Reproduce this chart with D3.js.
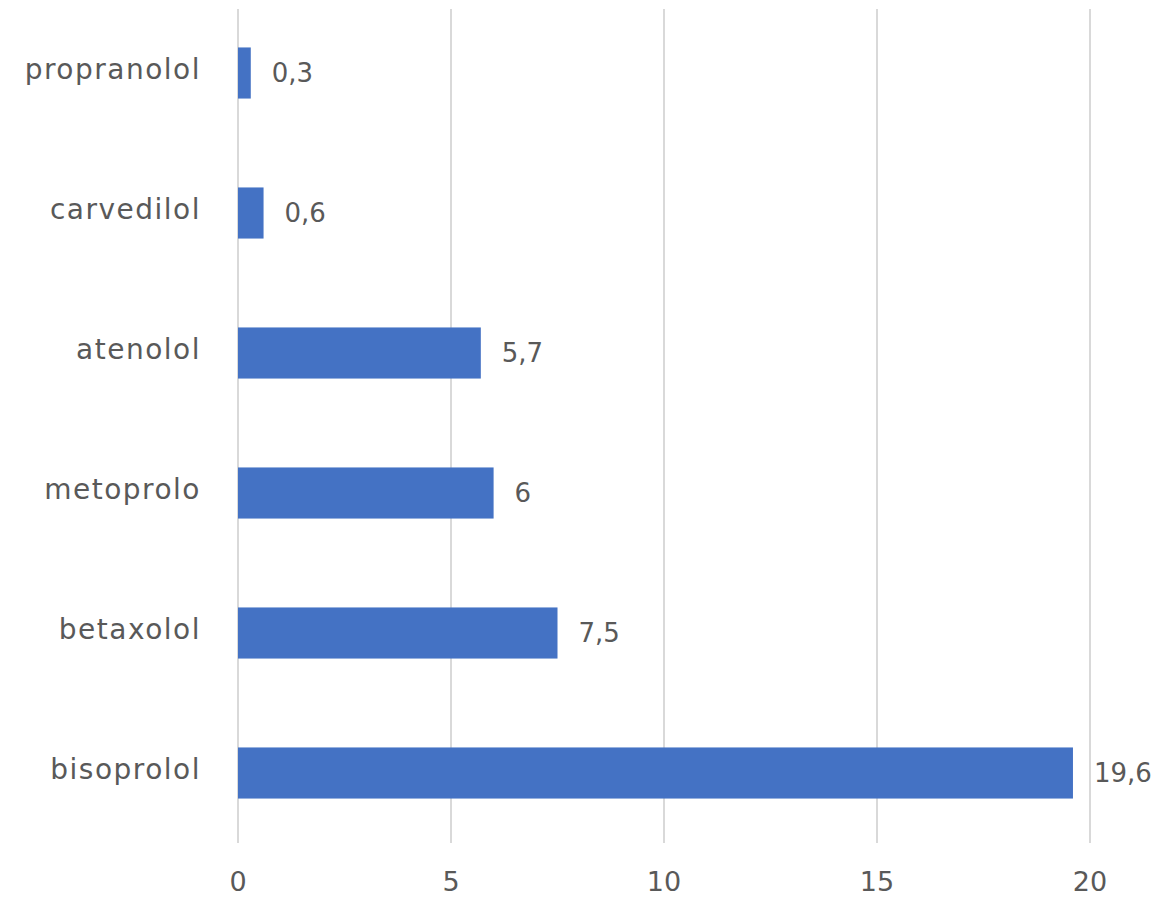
<!DOCTYPE html>
<html>
<head>
<meta charset="utf-8">
<script src="https://cdn.jsdelivr.net/npm/d3@7"></script>
<style>
  html, body { margin: 0; padding: 0; background: #fff; }
  svg text { font-family: "DejaVu Sans", sans-serif; fill: #595959; }
</style>
</head>
<body>
<svg id="chart" width="1166" height="897"></svg>
<script>
const categories = ["propranolol", "carvedilol", "atenolol", "metoprolo", "betaxolol", "bisoprolol"];
const values = [0.3, 0.6, 5.7, 6, 7.5, 19.6];
const valueLabels = ["0,3", "0,6", "5,7", "6", "7,5", "19,6"];
const tickValues = [0, 5, 10, 15, 20];

const svg = d3.select("#chart");
const x = d3.scaleLinear().domain([0, 20]).range([238, 1090]);
const y = d3.scaleBand().domain(categories).range([3, 843]).paddingInner(0.635).paddingOuter(0.3175);

// gridlines
svg.append("g").selectAll("line").data(tickValues).join("line")
  .attr("x1", d => x(d)).attr("x2", d => x(d))
  .attr("y1", 9).attr("y2", 843)
  .attr("stroke", "#d9d9d9").attr("stroke-width", 2);

// x tick labels
svg.append("g").selectAll("text").data(tickValues).join("text")
  .attr("x", d => x(d)).attr("y", 891)
  .attr("text-anchor", "middle")
  .attr("font-size", 27)
  .text(d => d);

// bars
svg.append("g").selectAll("rect").data(categories).join("rect")
  .attr("x", x(0))
  .attr("y", d => y(d))
  .attr("width", (d, i) => x(values[i]) - x(0))
  .attr("height", y.bandwidth())
  .attr("fill", "#4472c4");

// value labels
svg.append("g").selectAll("text").data(categories).join("text")
  .attr("x", (d, i) => x(values[i]) + 21)
  .attr("y", d => y(d) + y.bandwidth() / 2)
  .attr("dy", "0.36em")
  .attr("font-size", 26)
  .text((d, i) => valueLabels[i]);

// category labels
svg.append("g").selectAll("text").data(categories).join("text")
  .attr("x", 201)
  .attr("y", d => y(d) + y.bandwidth() / 2)
  .attr("dy", "0.2em")
  .attr("text-anchor", "end")
  .attr("font-size", 28)
  .attr("letter-spacing", 1.5)
  .text(d => d);
</script>
</body>
</html>
